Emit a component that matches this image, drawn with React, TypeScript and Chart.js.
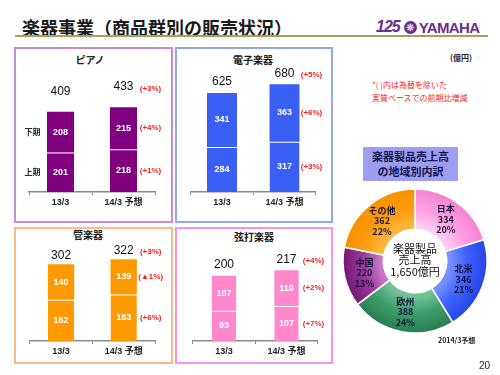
import React, { useEffect, useRef } from "react";
import { Chart, registerables } from "chart.js";

Chart.register(...registerables);

// ---------- data ----------
const barCategories = ["13/3", "14/3 予想"];
const halfLabels = ["上期", "下期"];

const pianoFirstHalf = [201, 218];
const pianoSecondHalf = [208, 215];
const pianoTotals = [409, 433];
const pianoChanges = ["(+3%)", "(+4%)", "(+1%)"]; // total, 下期, 上期

const electronicFirstHalf = [284, 317];
const electronicSecondHalf = [341, 363];
const electronicTotals = [625, 680];
const electronicChanges = ["(+5%)", "(+6%)", "(+3%)"];

const windFirstHalf = [162, 183];
const windSecondHalf = [140, 139];
const windTotals = [302, 322];
const windChanges = ["(+3%)", "(▲1%)", "(+6%)"];

const stringsFirstHalf = [93, 107];
const stringsSecondHalf = [107, 110];
const stringsTotals = [200, 217];
const stringsChanges = ["(+4%)", "(+2%)", "(+7%)"];

const regionLabels = ["日本", "北米", "欧州", "中国", "その他"];
const regionValues = [334, 346, 388, 220, 362];
const regionShares = ["20%", "21%", "24%", "13%", "22%"];
const donutCenterLines = ["楽器製品", "売上高", "1,650億円"];

// ---------- styles ----------
const JP = '"Noto Sans CJK JP", "Noto Sans", sans-serif';
const NUM = '"Liberation Sans", Arial, "Noto Sans CJK JP", sans-serif';
const regionInner = ["#ffcdf2", "#7891ff", "#74c29a", "#c777c7", "#ffb640"];
const regionMid = ["#ff9fe2", "#3f62ff", "#3f9e6c", "#9a3a9a", "#ff9c10"];
const regionOuter = ["#f583d2", "#2545e8", "#2a7d52", "#741874", "#f79200"];

type Box = { x: number; y: number; w: number; h: number };
type PanelProps = {
  title: string;
  titleX: number;
  titleY: number;
  first: number[];
  second: number[];
  totals: number[];
  changes: string[];
  color: string;
  border: string;
  box: Box;
  pad: { l: number; r: number; t: number; b: number };
  max: number;
  barPct: number;
  totalOffset: number;
  showHalves?: boolean;
};

function StackedPanel(p: PanelProps) {
  const ref = useRef<HTMLCanvasElement>(null);
  useEffect(() => {
    const plugin = {
      id: "panelLabels",
      afterDatasetsDraw(chart: any) {
        const ctx = chart.ctx as CanvasRenderingContext2D;
        const m0 = chart.getDatasetMeta(0);
        const m1 = chart.getDatasetMeta(1);
        const values = [p.first, p.second];
        ctx.save();
        ctx.textAlign = "center";
        ctx.textBaseline = "middle";
        ctx.fillStyle = "#ffffff";
        ctx.font = `bold 9px ${NUM}`;
        [m0, m1].forEach((meta: any, di: number) => {
          meta.data.forEach((el: any, i: number) => {
            const mid = (el.y + el.base) / 2;
            ctx.fillText(String(values[di][i]), el.x, mid);
          });
        });
        if (p.showHalves) {
          ctx.fillStyle = "#222";
          ctx.font = `bold 8px ${JP}`;
          [m0, m1].forEach((meta: any, di: number) => {
            const el = meta.data[0];
            ctx.fillText(halfLabels[di], el.x - 28, (el.y + el.base) / 2);
          });
        }
        ctx.fillStyle = "#111";
        ctx.font = `12px ${NUM}`;
        m1.data.forEach((el: any, i: number) => {
          ctx.fillText(String(p.totals[i]), el.x, el.y - p.totalOffset);
        });
        const last = m1.data.length - 1;
        const e1 = m1.data[last];
        const e0 = m0.data[last];
        const cx = e1.x + 27;
        ctx.fillStyle = "#ff2020";
        ctx.font = `bold 8px ${NUM}`;
        ctx.fillText(p.changes[0], cx, e1.y - p.totalOffset + 2);
        ctx.fillText(p.changes[1], cx, (e1.y + e1.base) / 2);
        ctx.fillText(p.changes[2], cx, (e0.y + e0.base) / 2);
        ctx.restore();
      },
    };
    const chart = new Chart(ref.current as HTMLCanvasElement, {
      type: "bar",
      data: {
        labels: barCategories,
        datasets: [
          {
            label: halfLabels[0],
            data: p.first,
            backgroundColor: p.color,
            borderColor: "rgba(255,255,255,0.75)",
            borderWidth: { top: 1, left: 0, right: 0, bottom: 0 },
            borderSkipped: false,
            barPercentage: p.barPct,
            categoryPercentage: 1,
          },
          {
            label: halfLabels[1],
            data: p.second,
            backgroundColor: p.color,
            borderWidth: 0,
            barPercentage: p.barPct,
            categoryPercentage: 1,
          },
        ],
      },
      options: {
        animation: false,
        responsive: false,
        maintainAspectRatio: false,
        layout: { padding: { left: p.pad.l, right: p.pad.r, top: p.pad.t, bottom: p.pad.b } },
        plugins: { legend: { display: false }, tooltip: { enabled: false } },
        scales: {
          x: {
            stacked: true,
            grid: { display: true, drawOnChartArea: false, drawTicks: true, tickLength: 3, color: "#8a8a8a", offset: true },
            border: { display: true, color: "#8a8a8a", width: 1.5 },
            ticks: { color: "#222", font: { size: 9, weight: "bold", family: NUM }, padding: 2 },
            afterFit: (s: any) => {
              s.height = 20;
            },
          },
          y: { stacked: true, display: false, min: 0, max: p.max },
        },
      } as any,
      plugins: [plugin],
    });
    return () => chart.destroy();
  }, []);
  return (
    <>
      <div
        style={{
          position: "absolute",
          left: p.box.x,
          top: p.box.y,
          width: p.box.w,
          height: p.box.h,
          boxSizing: "border-box",
          border: `2px solid ${p.border}`,
        }}
      />
      <div
        style={{
          position: "absolute",
          left: p.titleX - 40,
          width: 80,
          top: p.titleY - 7,
          height: 14,
          lineHeight: "14px",
          textAlign: "center",
          fontFamily: JP,
          fontWeight: "bold",
          fontSize: 10,
          color: "#222",
        }}
      >
        {p.title}
      </div>
      <canvas
        ref={ref}
        width={p.box.w}
        height={p.box.h}
        style={{ position: "absolute", left: p.box.x, top: p.box.y, width: p.box.w, height: p.box.h }}
      />
    </>
  );
}

function RegionDonut() {
  const ref = useRef<HTMLCanvasElement>(null);
  useEffect(() => {
    const plugin = {
      id: "donutLabels",
      afterDatasetsDraw(chart: any) {
        const ctx = chart.ctx as CanvasRenderingContext2D;
        const meta = chart.getDatasetMeta(0);
        ctx.save();
        ctx.textAlign = "center";
        ctx.textBaseline = "middle";
        ctx.fillStyle = "#15153a";
        ctx.font = `bold 9px ${JP}`;
        meta.data.forEach((arc: any, i: number) => {
          const pt = arc.tooltipPosition(true);
          const lines = [regionLabels[i], String(regionValues[i]), regionShares[i]];
          lines.forEach((t, j) => ctx.fillText(t, pt.x, pt.y + (j - 1) * 10.5));
        });
        const c = meta.data[0];
        ctx.fillStyle = "#111";
        ctx.font = `11px ${JP}`;
        donutCenterLines.forEach((t, j) => ctx.fillText(t, c.x, c.y - 1 + (j - 1) * 11.5));
        ctx.restore();
      },
    };
    const chart = new Chart(ref.current as HTMLCanvasElement, {
      type: "doughnut",
      data: {
        labels: regionLabels,
        datasets: [
          {
            data: regionValues,
            backgroundColor: (c: any) => {
              const chart = c.chart;
              const area = chart.chartArea;
              const i = c.dataIndex;
              if (!area) return regionMid[i];
              const cx = (area.left + area.right) / 2;
              const cy = (area.top + area.bottom) / 2;
              const g = chart.ctx.createRadialGradient(cx, cy, 35, cx, cy, 72);
              g.addColorStop(0, regionInner[i]);
              g.addColorStop(0.45, regionMid[i]);
              g.addColorStop(1, regionOuter[i]);
              return g;
            },
            borderColor: "#ffffff",
            borderWidth: 1.5,
          },
        ],
      },
      options: {
        animation: false,
        responsive: false,
        maintainAspectRatio: false,
        radius: 72,
        cutout: 35,
        rotation: 0,
        plugins: { legend: { display: false }, tooltip: { enabled: false } },
      } as any,
      plugins: [plugin],
    });
    return () => chart.destroy();
  }, []);
  return (
    <canvas
      ref={ref}
      width={160}
      height={160}
      style={{ position: "absolute", left: 335, top: 181, width: 160, height: 160 }}
    />
  );
}

export default function App() {
  return (
    <div
      style={{
        position: "fixed",
        left: 0,
        top: 0,
        width: 500,
        height: 375,
        background: "#ffffff",
        overflow: "hidden",
        fontFamily: JP,
      }}
    >
      <div
        style={{
          position: "absolute",
          left: 22,
          top: 14,
          fontSize: 18,
          fontWeight: "bold",
          lineHeight: "26px",
          color: "#1a1a1a",
          whiteSpace: "nowrap",
        }}
      >
        楽器事業（商品群別の販売状況）
      </div>
      <div style={{ position: "absolute", left: 15, top: 35, width: 473, height: 2, background: "#a3a35c" }} />
      <div
        style={{
          position: "absolute",
          left: 376,
          top: 17,
          height: 20,
          display: "flex",
          alignItems: "center",
          color: "#6b2d8c",
          whiteSpace: "nowrap",
        }}
      >
        <span style={{ fontFamily: NUM, fontWeight: "bold", fontSize: 16, letterSpacing: -1, fontStyle: "italic" }}>125</span>
        <span
          style={{
            display: "inline-block",
            width: 13,
            height: 13,
            borderRadius: "50%",
            background: "#6b2d8c",
            color: "#fff",
            fontSize: 10,
            lineHeight: "13px",
            textAlign: "center",
            marginLeft: 4,
            marginRight: 2,
            fontFamily: '"DejaVu Sans", sans-serif',
          }}
        >
          ❋
        </span>
        <span style={{ fontFamily: NUM, fontWeight: "bold", fontSize: 15, letterSpacing: -0.6 }}>YAMAHA</span>
      </div>

      <StackedPanel
        title="ピアノ"
        titleX={90}
        titleY={60}
        first={pianoFirstHalf}
        second={pianoSecondHalf}
        totals={pianoTotals}
        changes={pianoChanges}
        color="#800080"
        border="#c98ad6"
        box={{ x: 14, y: 47, w: 159, h: 176 }}
        pad={{ l: 15, r: 18, t: 27.4, b: 11 }}
        max={600}
        barPct={0.43}
        totalOffset={20}
        showHalves
      />
      <StackedPanel
        title="電子楽器"
        titleX={253}
        titleY={60}
        first={electronicFirstHalf}
        second={electronicSecondHalf}
        totals={electronicTotals}
        changes={electronicChanges}
        color="#3a5ff5"
        border="#96a6ec"
        box={{ x: 175, y: 47, w: 158, h: 176 }}
        pad={{ l: 15.75, r: 17.25, t: 18.2, b: 11 }}
        max={800}
        barPct={0.48}
        totalOffset={11}
      />
      <StackedPanel
        title="管楽器"
        titleX={88}
        titleY={235}
        first={windFirstHalf}
        second={windSecondHalf}
        totals={windTotals}
        changes={windChanges}
        color="#ff9900"
        border="#f8b98c"
        box={{ x: 14, y: 227, w: 159, h: 137 }}
        pad={{ l: 15.75, r: 18, t: 12.4, b: 3 }}
        max={400}
        barPct={0.42}
        totalOffset={9}
      />
      <StackedPanel
        title="弦打楽器"
        titleX={254}
        titleY={237}
        first={stringsFirstHalf}
        second={stringsSecondHalf}
        totals={stringsTotals}
        changes={stringsChanges}
        color="#ff88cc"
        border="#f294ec"
        box={{ x: 175, y: 227, w: 158, h: 137 }}
        pad={{ l: 17.75, r: 15.25, t: 16.2, b: 3 }}
        max={300}
        barPct={0.39}
        totalOffset={11}
      />

      <div style={{ position: "absolute", left: 450, top: 52, fontSize: 8, fontWeight: "bold", color: "#222", lineHeight: "12px" }}>
        (億円)
      </div>
      <div
        style={{
          position: "absolute",
          left: 372,
          top: 78,
          fontSize: 8,
          color: "#ff2020",
          lineHeight: "13px",
          whiteSpace: "nowrap",
        }}
      >
        <div>*( )内は為替を除いた</div>
        <div>実質ベースでの前期比増減</div>
      </div>
      <div
        style={{
          position: "absolute",
          left: 363,
          top: 147,
          width: 95,
          height: 34,
          background: "#9d9df2",
          color: "#16164a",
          fontSize: 11,
          fontWeight: "bold",
          lineHeight: "15px",
          textAlign: "center",
          paddingTop: 2,
          boxSizing: "border-box",
        }}
      >
        <div>楽器製品売上高</div>
        <div>の地域別内訳</div>
      </div>
      <RegionDonut />
      <div style={{ position: "absolute", left: 438, top: 335, fontSize: 7, fontWeight: "bold", color: "#222", lineHeight: "10px" }}>
        2014/3予想
      </div>
      <div style={{ position: "absolute", left: 479, top: 360, fontSize: 10, color: "#222", fontFamily: NUM, lineHeight: "12px" }}>
        20
      </div>
    </div>
  );
}
